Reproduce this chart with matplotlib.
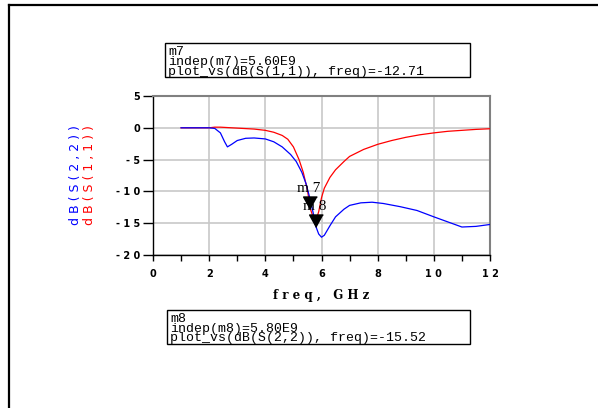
import matplotlib
matplotlib.use("Agg")
import matplotlib.pyplot as plt
from matplotlib.lines import Line2D
from matplotlib.patches import Rectangle

# S(1,1)
freq_s11 = [1.0, 2.0, 2.2, 2.4, 2.8, 3.2, 3.6, 4.0, 4.3, 4.6, 4.8, 5.0, 5.2, 5.35,
            5.5, 5.6, 5.7, 5.8, 5.9, 6.0, 6.1, 6.3, 6.5, 6.8, 7.0, 7.5, 8.0, 8.5,
            9.0, 9.5, 10.0, 10.5, 11.0, 11.5, 12.0]
db_s11 = [0.0, 0.0, 0.1, 0.1, 0.0, -0.1, -0.2, -0.4, -0.7, -1.2, -1.8, -3.0, -5.0, -7.0,
          -9.8, -12.71, -14.0, -14.6, -13.2, -11.0, -9.5, -7.8, -6.6, -5.3, -4.5, -3.4, -2.6, -2.0,
          -1.5, -1.1, -0.8, -0.55, -0.4, -0.25, -0.15]

# S(2,2)
freq_s22 = [1.0, 2.0, 2.2, 2.4, 2.55, 2.65, 2.8, 3.0, 3.3, 3.6, 4.0, 4.3, 4.6, 4.9,
            5.1, 5.3, 5.45, 5.6, 5.7, 5.8, 5.9, 6.0, 6.1, 6.3, 6.5, 6.8, 7.0, 7.4,
            7.8, 8.2, 8.8, 9.4, 10.0, 10.5, 11.0, 11.5, 12.0]
db_s22 = [0.0, 0.0, -0.1, -0.8, -2.2, -3.0, -2.6, -2.0, -1.65, -1.6, -1.75, -2.2, -3.0, -4.2,
          -5.3, -7.0, -8.8, -11.3, -13.3, -15.52, -16.7, -17.2, -16.9, -15.4, -14.0, -12.8, -12.2, -11.8,
          -11.7, -11.9, -12.4, -13.0, -14.0, -14.8, -15.6, -15.5, -15.2]

markers = ["m7", "m8"]
marker_freq = [5.6, 5.8]
marker_db = [-12.71, -15.52]
marker_label = ["m 7", "m 8"]
marker_trace = ["S(1,1)", "S(2,2)"]

xticks = [0, 2, 4, 6, 8, 10, 12]
xtick_labels = ["0", "2", "4", "6", "8", "1 0", "1 2"]
yticks = [5, 0, -5, -10, -15, -20]
ytick_labels = ["5", "0", "- 5", "- 1 0", "- 1 5", "- 2 0"]

W, H = 598, 408
fig = plt.figure(figsize=(W / 100, H / 100), dpi=100)

ax = fig.add_axes([153 / W, 1 - 255 / H, 337 / W, 159 / H])
ax.plot(freq_s11, db_s11, color="#ff0000", lw=0.9, zorder=3)
ax.plot(freq_s22, db_s22, color="#0000ff", lw=0.9, zorder=3)

# marker triangles, apex on the data point
tri = [(0, 0), (-0.55, 1.0), (0.55, 1.0)]
for f, d, lab in zip(marker_freq, marker_db, marker_label):
    ax.plot([f], [d], marker=tri, ms=18, color="black", zorder=5)
    ax.annotate(lab, xy=(f, d), xytext=(-1, 10), textcoords="offset points",
                ha="center", va="bottom", fontsize=11, family="Liberation Serif",
                zorder=6)

ax.set_xlim(0, 12)
ax.set_ylim(-20, 5)
ax.set_xticks(xticks)
ax.set_xticklabels(xtick_labels)
ax.set_xticks(range(1, 12, 2), minor=True)
ax.set_yticks(yticks)
ax.set_yticklabels(ytick_labels)
for lbl in ax.get_xticklabels() + ax.get_yticklabels():
    lbl.set_fontweight("bold")
    lbl.set_fontsize(7)
ax.tick_params(axis="y", direction="out", length=7.5, width=1, pad=2)
ax.tick_params(axis="x", which="both", direction="out", length=4, width=1, pad=6)
ax.grid(True, color="#c8c8c8", lw=1.2)
ax.set_axisbelow(True)
for s in ["left", "bottom"]:
    ax.spines[s].set_color("black")
    ax.spines[s].set_linewidth(1)
for s in ["top", "right"]:
    ax.spines[s].set_color("#808080")
    ax.spines[s].set_linewidth(1.5)

fig.text(321 / W, 1 - 296 / H, "f r e q ,   G H z", ha="center", va="center",
         fontsize=8.5, fontweight="bold", family="DejaVu Serif")
fig.text(75 / W, 1 - 175 / H, "d B ( S ( 2 , 2 ) )", rotation=90, ha="center",
         va="center", fontsize=9, color="#0000ff")
fig.text(90 / W, 1 - 175 / H, "d B ( S ( 1 , 1 ) )", rotation=90, ha="center",
         va="center", fontsize=9, color="#ff0000")

# marker readout boxes
box_x = [165, 167]
box_top = [43, 310]
box_bottom = [77, 344]
for i, name in enumerate(markers):
    x0, y0, y1 = box_x[i], box_top[i], box_bottom[i]
    fig.add_artist(Rectangle((x0 / W, 1 - y1 / H), (470 - x0) / W, (y1 - y0) / H,
                             transform=fig.transFigure, fill=False, ec="black", lw=1))
    txt = "%s\nindep(%s)=%.2fE9\nplot_vs(dB(%s), freq)=%.2f" % (
        name, name, marker_freq[i], marker_trace[i], marker_db[i])
    fig.text((x0 + 3) / W, 1 - (y1 - 2.5) / H, txt, ha="left", va="baseline",
             fontsize=9.5, family="Liberation Mono", linespacing=0.75)

# outer page frame
fig.add_artist(Line2D([9 / W, 9 / W], [0, 1 - 5 / H], transform=fig.transFigure,
                      color="black", lw=1.6))
fig.add_artist(Line2D([9 / W, 1], [1 - 5 / H, 1 - 5 / H], transform=fig.transFigure,
                      color="black", lw=1.6))

fig.savefig("out.png", dpi=100)
